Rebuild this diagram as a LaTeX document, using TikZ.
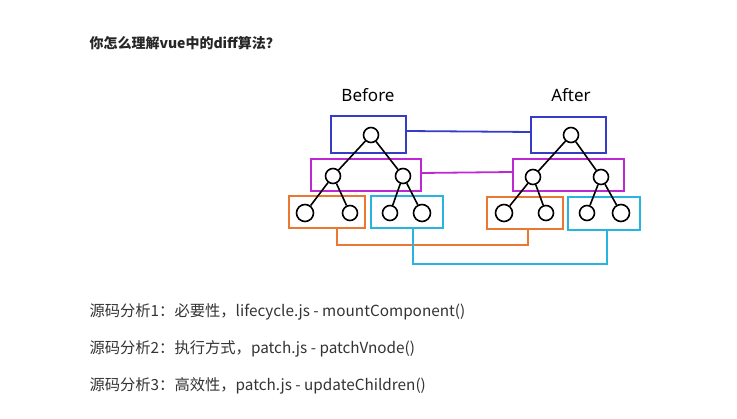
\documentclass[tikz,border=0pt]{standalone}
\usepackage{fontspec}
\setmainfont{Noto Sans CJK SC}
\newfontfamily\hand{Noto Sans}
\definecolor{vblue}{RGB}{52,60,200}
\definecolor{vpurple}{RGB}{190,40,210}
\definecolor{vorange}{RGB}{235,120,50}
\definecolor{vcyan}{RGB}{40,180,225}
\definecolor{txt}{RGB}{51,51,51}
\tikzset{
  vnode/.style={circle, draw=black, line width=1.6pt, fill=white, minimum size=15pt, inner sep=0pt},
  level/.style={draw=#1, line width=1.8pt, fill=none},
  link/.style={draw=#1, line width=1.8pt},
  line/.style={anchor=base west, text=txt, font=\fontsize{15.3}{18}\selectfont}
}
\begin{document}
\begin{tikzpicture}[x=1pt, y=-1pt]
\useasboundingbox (0,0) rectangle (737,419);
\node[anchor=base west, font=\fontsize{14}{17}\selectfont\bfseries, text=black!85] (title) at (86,49) {你怎么理解vue中的diff算法？};
\node[font=\hand\fontsize{17}{20}\selectfont] (before) at (368,95) {Before};
\node[font=\hand\fontsize{17}{20}\selectfont] (after) at (571,95) {After};
% before tree
\draw[level=vblue] (331,116) rectangle (406,153);
\draw[level=vpurple] (311,159) rectangle (421,191);
\draw[level=vorange] (289,196) rectangle (365,228);
\draw[level=vcyan] (371,196) rectangle (443,228);
\node[vnode] (b0) at (371,135) {};
\node[vnode] (b1) at (333,176) {};
\node[vnode] (b2) at (403,176) {};
\node[vnode, minimum size=17pt] (b11) at (305,213) {};
\node[vnode] (b12) at (350,213) {};
\node[vnode] (b21) at (390,213) {};
\node[vnode, minimum size=17pt] (b22) at (422,213) {};
\draw[line width=1.6pt] (b0) -- (b1) (b0) -- (b2) (b1) -- (b11) (b1) -- (b12) (b2) -- (b21) (b2) -- (b22);
% after tree
\draw[level=vblue] (531,117) rectangle (606,153);
\draw[level=vpurple] (513,159) rectangle (624,191);
\draw[level=vorange] (487,197) rectangle (563,229);
\draw[level=vcyan] (568,197) rectangle (640,230);
\node[vnode] (a0) at (571,135) {};
\node[vnode] (a1) at (533,177) {};
\node[vnode] (a2) at (601,177) {};
\node[vnode, minimum size=17pt] (a11) at (504,213) {};
\node[vnode] (a12) at (546,213) {};
\node[vnode] (a21) at (587,213) {};
\node[vnode, minimum size=17pt] (a22) at (621,213) {};
\draw[line width=1.6pt] (a0) -- (a1) (a0) -- (a2) (a1) -- (a11) (a1) -- (a12) (a2) -- (a21) (a2) -- (a22);
% links between levels
\coordinate (lb0) at (406,131); \coordinate (la0) at (531,132);
\coordinate (lb1) at (421,173); \coordinate (la1) at (513,172);
\coordinate (lb2) at (337,228); \coordinate (la2) at (528,229);
\coordinate (lb3) at (413,228); \coordinate (la3) at (607,230);
\draw[link=vblue] (lb0) -- (la0);
\draw[link=vpurple] (lb1) -- (la1);
\draw[link=vorange] (lb2) -- ++(0,17) -| (la2);
\draw[link=vcyan] (lb3) -- ++(0,36) -| (la3);
% notes
\node[line] (n1) at (86,317) {源码分析1：必要性，lifecycle.js - mountComponent()};
\node[line] (n2) at (86,354) {源码分析2：执行方式，patch.js - patchVnode()};
\node[line] (n3) at (86,391) {源码分析3：高效性，patch.js - updateChildren()};
\end{tikzpicture}
\end{document}
